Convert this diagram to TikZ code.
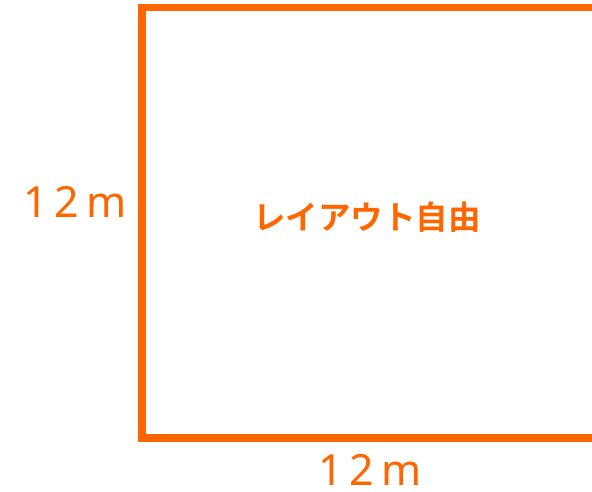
\documentclass[tikz,border=0pt]{standalone}
\usepackage{fontspec}
\newfontfamily\jpbold{Noto Sans CJK JP Bold}
\setmainfont{Noto Sans}
\definecolor{orng}{HTML}{FF6600}
\begin{document}
\begin{tikzpicture}[x=1pt,y=1pt,
  dimlabel/.style={text=orng,font=\fontsize{43}{43}\selectfont,inner sep=0pt},
  maintext/.style={text=orng,font=\jpbold\fontsize{32.5}{32.5}\selectfont,inner sep=0pt}]
\useasboundingbox (0,0) rectangle (592,-492);
\clip (0,0) rectangle (592,-492);
\fill[white] (0,0) rectangle (592,-492);
\draw[orng,line width=7.5pt,line join=miter] (610,-7.5) -- (142,-7.5) -- (142,-438) -- (610,-438);
\node[dimlabel] (left) at (75,-202) {1\hspace{7pt}2\hspace{7pt}m};
\node[dimlabel] (bottom) at (370,-470) {1\hspace{7pt}2\hspace{7pt}m};
\node[maintext] (center) at (367,-217) {レイアウト自由};
\end{tikzpicture}
\end{document}
